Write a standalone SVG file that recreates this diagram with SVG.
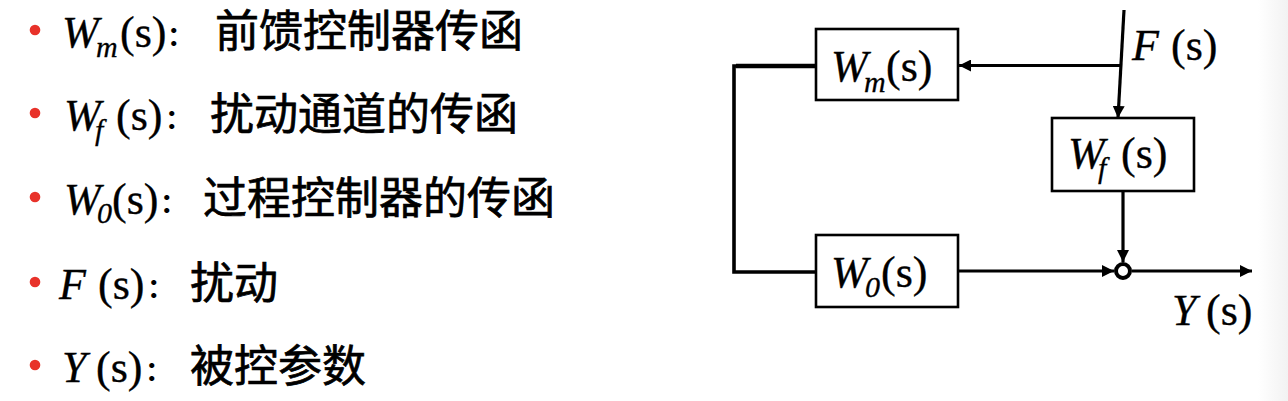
<svg xmlns="http://www.w3.org/2000/svg" width="1288" height="401" viewBox="0 0 1288 401">
<style>
.lat{font-size:44px;fill:#000;stroke:#000;stroke-width:0.35}
.sub{font-size:30px;fill:#000;stroke:#000;stroke-width:0.3}
.cjk{font-size:44px;fill:#000;stroke:#000;stroke-width:0.7}
.col{font-size:27px;font-weight:bold;fill:#000}
.box{fill:#fff;stroke:#000;stroke-width:2.6}
.ln{fill:none;stroke:#000;stroke-width:3.2;stroke-linejoin:miter}
.bul{fill:#e8322a}
</style>
<defs>
<marker id="ah" viewBox="0 0 12 12" refX="12" refY="6" markerWidth="12" markerHeight="12" markerUnits="userSpaceOnUse" orient="auto">
<path d="M0,0 L12,6 L0,12 Z" fill="#000"/>
</marker>
<linearGradient id="edge" x1="0" x2="1" y1="0" y2="0">
<stop offset="0" stop-color="#ffffff"/>
<stop offset="1" stop-color="#f2f2f2"/>
</linearGradient>
</defs>
<rect x="0" y="0" width="1288" height="401" fill="#fff"/>
<rect x="1258" y="0" width="30" height="401" fill="url(#edge)"/>

<g id="legend">
<g id="item-wm">
<circle class="bul" cx="35" cy="30" r="5.3"/>
<text class="lat" style="font-family:'Liberation Serif';font-style:italic" x="62" y="47">W</text>
<text class="sub" style="font-family:'Liberation Serif';font-style:italic" x="96" y="57">m</text>
<text class="lat" style="font-family:'Liberation Serif'" x="120" y="47">(s)</text>
<text class="col" style="font-family:'Noto Sans CJK SC'" x="167" y="46">：</text>
<text class="cjk" style="font-family:'Noto Sans CJK SC'" x="215" y="47">前馈控制器传函</text>
</g>
<g id="item-wf">
<circle class="bul" cx="35" cy="113" r="5.3"/>
<text class="lat" style="font-family:'Liberation Serif';font-style:italic" x="64" y="130">W</text>
<text class="sub" style="font-family:'Liberation Serif';font-style:italic" x="95" y="140">f</text>
<text class="lat" style="font-family:'Liberation Serif'" x="116" y="130">(s)</text>
<text class="col" style="font-family:'Noto Sans CJK SC'" x="165" y="129">：</text>
<text class="cjk" style="font-family:'Noto Sans CJK SC'" x="210" y="130">扰动通道的传函</text>
</g>
<g id="item-w0">
<circle class="bul" cx="35" cy="197" r="5.3"/>
<text class="lat" style="font-family:'Liberation Serif';font-style:italic" x="64" y="214">W</text>
<text class="sub" style="font-family:'Liberation Serif';font-style:italic" x="97" y="223">0</text>
<text class="lat" style="font-family:'Liberation Serif'" x="112" y="214">(s)</text>
<text class="col" style="font-family:'Noto Sans CJK SC'" x="160" y="213">：</text>
<text class="cjk" style="font-family:'Noto Sans CJK SC'" x="203" y="214">过程控制器的传函</text>
</g>
<g id="item-f">
<circle class="bul" cx="35" cy="282" r="5.3"/>
<text class="lat" style="font-family:'Liberation Serif';font-style:italic" x="59" y="299">F</text>
<text class="lat" style="font-family:'Liberation Serif'" x="98" y="299">(s)</text>
<text class="col" style="font-family:'Noto Sans CJK SC'" x="147" y="298">：</text>
<text class="cjk" style="font-family:'Noto Sans CJK SC'" x="190" y="299">扰动</text>
</g>
<g id="item-y">
<circle class="bul" cx="35" cy="365" r="5.3"/>
<text class="lat" style="font-family:'Liberation Serif';font-style:italic" x="62" y="382">Y</text>
<text class="lat" style="font-family:'Liberation Serif'" x="96" y="382">(s)</text>
<text class="col" style="font-family:'Noto Sans CJK SC'" x="145" y="381">：</text>
<text class="cjk" style="font-family:'Noto Sans CJK SC'" x="190" y="382">被控参数</text>
</g>
</g>

<g id="connectors">
<path class="ln" d="M1124,10 L1118,118" marker-end="url(#ah)"/>
<path class="ln" d="M1121,65.5 L959,65.5" marker-end="url(#ah)"/>
<path class="ln" d="M816,66 L734,66 L734,272 L816,272" style="stroke-width:3.6"/>
<path class="ln" d="M816,66 L736,66" style="stroke-width:4.6"/>
<path class="ln" d="M1123,191 L1123,262" marker-end="url(#ah)"/>
<path class="ln" d="M958,271 L1114,271" marker-end="url(#ah)"/>
<path class="ln" d="M1132,271 L1252,271" marker-end="url(#ah)"/>
</g>

<g id="node-wm">
<rect class="box" x="816" y="29" width="142" height="71"/>
<text class="lat" style="font-family:'Liberation Serif';font-style:italic" x="831" y="81">W</text>
<text class="sub" style="font-family:'Liberation Serif';font-style:italic" x="864" y="92">m</text>
<text class="lat" style="font-family:'Liberation Serif'" x="886" y="81">(s)</text>
</g>
<g id="node-wf">
<rect class="box" x="1052" y="118" width="142" height="73"/>
<text class="lat" style="font-family:'Liberation Serif';font-style:italic" x="1068" y="168">W</text>
<text class="sub" style="font-family:'Liberation Serif';font-style:italic" x="1098" y="178">f</text>
<text class="lat" style="font-family:'Liberation Serif'" x="1121" y="168">(s)</text>
</g>
<g id="node-w0">
<rect class="box" x="816" y="235" width="142" height="72"/>
<text class="lat" style="font-family:'Liberation Serif';font-style:italic" x="831" y="287">W</text>
<text class="sub" style="font-family:'Liberation Serif';font-style:italic" x="865" y="297">0</text>
<text class="lat" style="font-family:'Liberation Serif'" x="881" y="287">(s)</text>
</g>
<g id="node-sum">
<circle cx="1123" cy="271" r="7" fill="#fff" stroke="#000" stroke-width="4"/>
</g>
<g id="label-f">
<text class="lat" style="font-family:'Liberation Serif';font-style:italic" x="1132" y="60">F</text>
<text class="lat" style="font-family:'Liberation Serif'" x="1171" y="60">(s)</text>
</g>
<g id="label-y">
<text class="lat" style="font-family:'Liberation Serif';font-style:italic" x="1172" y="325">Y</text>
<text class="lat" style="font-family:'Liberation Serif'" x="1206" y="325">(s)</text>
</g>
</svg>
